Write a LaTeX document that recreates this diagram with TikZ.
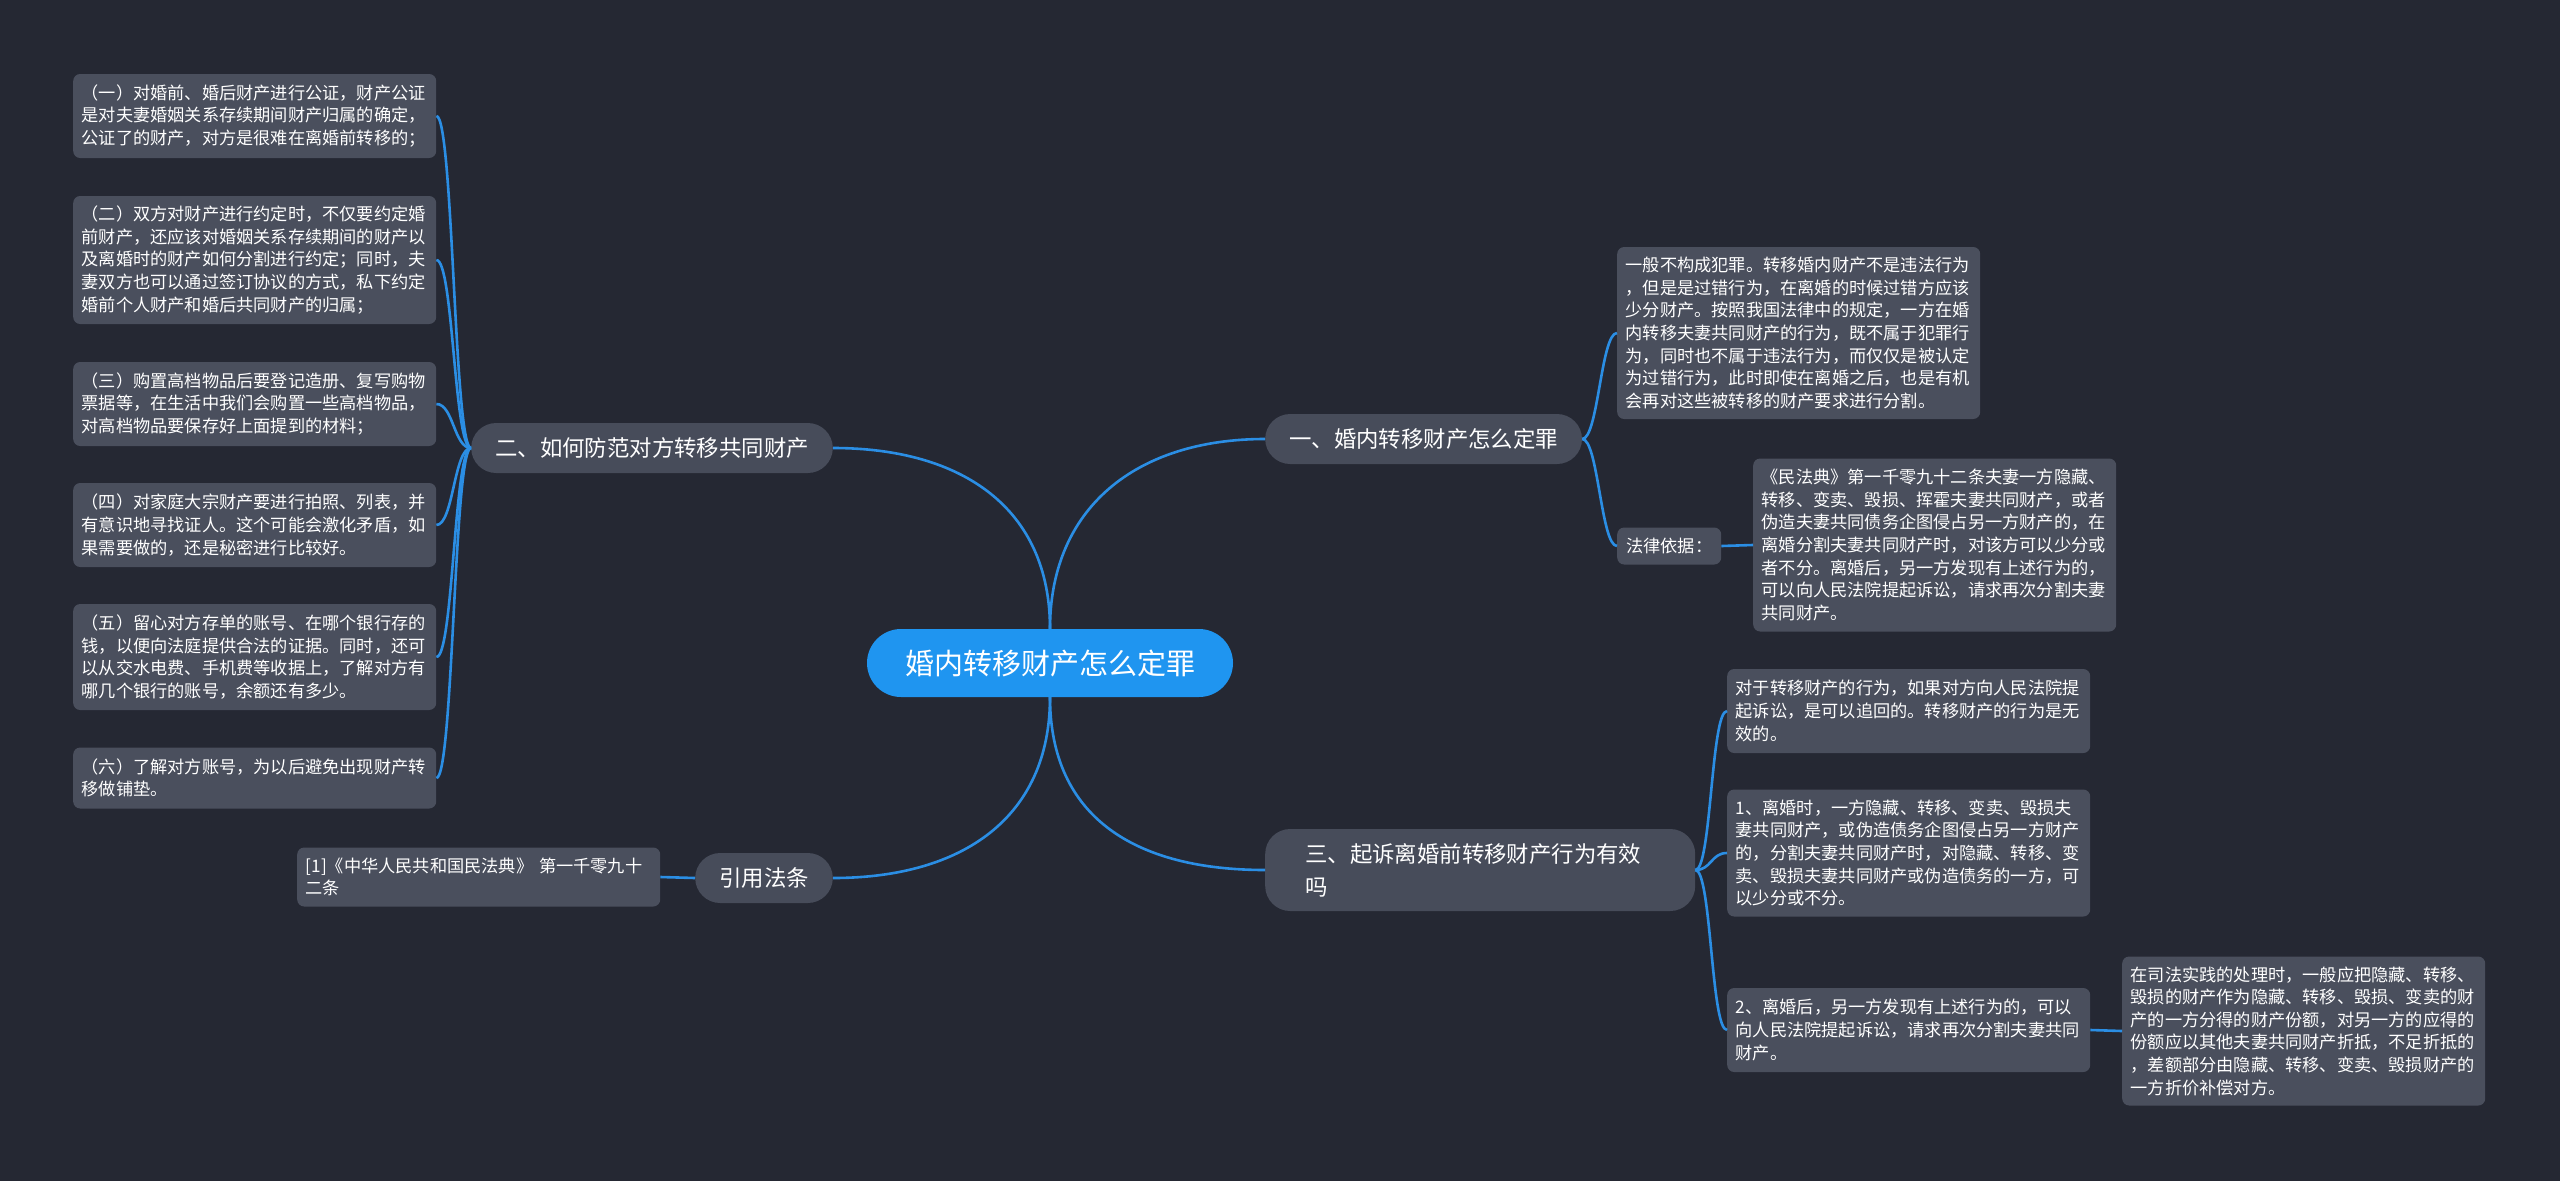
\documentclass[tikz,border=0pt]{standalone}
\usepackage{fontspec}
\newfontfamily\cjkfont{Noto Sans CJK SC}
\usepackage{xcolor}
\definecolor{bgnavy}{HTML}{252833}
\definecolor{leafgray}{HTML}{4A4F5D}
\definecolor{topicgray}{HTML}{474C5A}
\definecolor{rootblue}{HTML}{1F95F0}
\definecolor{linkblue}{HTML}{2B8EE4}

\begin{document}
\begin{tikzpicture}[x=1pt, y=-1pt,
  leaf/.style={fill=leafgray, text=white, rounded corners=7, anchor=west,
    font=\cjkfont\fontsize{17.2}{22.6}\selectfont, align=left,
    text width=346, inner xsep=8.5, inner ysep=0},
  topic/.style={fill=topicgray, text=white, rounded corners=25,
    font=\cjkfont\fontsize{22.4}{29}\selectfont, inner xsep=24,
    minimum height=50},
  link/.style={linkblue, line width=2.6}]
  \useasboundingbox (0,0) rectangle (2560,1181);
  \fill[bgnavy] (0,0) rectangle (2560,1181);

  %% Root and main topics
  \node[fill=rootblue, text=white, rounded corners=34, minimum height=68,
    inner xsep=38, font=\cjkfont\fontsize{29}{34}\selectfont] (root) at (1050,663)
    {婚内转移财产怎么定罪};
  \node[topic, anchor=west] (t1) at (1265,439) {一、婚内转移财产怎么定罪};
  \node[topic, anchor=east] (t2) at (833,448) {二、如何防范对方转移共同财产};
  \node[topic, anchor=west, minimum height=82, inner xsep=40, align=left,
    text width=350, font=\cjkfont\fontsize{22.4}{33}\selectfont] (t3) at (1265,870)
    {三、起诉离婚前转移财产行为有效\\吗};
  \node[topic, anchor=east] (t4) at (833,878) {引用法条};

  \draw[link] (root.north) .. controls +(0,-120) and +(-130,0) .. (t1.west);
  \draw[link] (root.north) .. controls +(0,-120) and +(130,0) .. (t2.east);
  \draw[link] (root.south) .. controls +(0,120) and +(-130,0) .. (t3.west);
  \draw[link] (root.south) .. controls +(0,120) and +(130,0) .. (t4.east);

  %% Left: prevention measures
  \node[leaf, minimum height=84] (l1) at (73,116)
    {（一）对婚前、婚后财产进行公证，财产公证\\是对夫妻婚姻关系存续期间财产归属的确定，\\公证了的财产，对方是很难在离婚前转移的；};
  \node[leaf, minimum height=128] (l2) at (73,260)
    {（二）双方对财产进行约定时，不仅要约定婚\\前财产，还应该对婚姻关系存续期间的财产以\\及离婚时的财产如何分割进行约定；同时，夫\\妻双方也可以通过签订协议的方式，私下约定\\婚前个人财产和婚后共同财产的归属；};
  \node[leaf, minimum height=84] (l3) at (73,404)
    {（三）购置高档物品后要登记造册、复写购物\\票据等，在生活中我们会购置一些高档物品，\\对高档物品要保存好上面提到的材料；};
  \node[leaf, minimum height=84] (l4) at (73,525)
    {（四）对家庭大宗财产要进行拍照、列表，并\\有意识地寻找证人。这个可能会激化矛盾，如\\果需要做的，还是秘密进行比较好。};
  \node[leaf, minimum height=106] (l5) at (73,657)
    {（五）留心对方存单的账号、在哪个银行存的\\钱，以便向法庭提供合法的证据。同时，还可\\以从交水电费、手机费等收据上，了解对方有\\哪几个银行的账号，余额还有多少。};
  \node[leaf, minimum height=61] (l6) at (73,778)
    {（六）了解对方账号，为以后避免出现财产转\\移做铺垫。};

  \draw[link] (t2.west) .. controls +(-17,0) and +(17,0) .. (l1.east);
  \draw[link] (t2.west) .. controls +(-17,0) and +(17,0) .. (l2.east);
  \draw[link] (t2.west) .. controls +(-17,0) and +(17,0) .. (l3.east);
  \draw[link] (t2.west) .. controls +(-17,0) and +(17,0) .. (l4.east);
  \draw[link] (t2.west) .. controls +(-17,0) and +(17,0) .. (l5.east);
  \draw[link] (t2.west) .. controls +(-17,0) and +(17,0) .. (l6.east);

  %% Left: cited law
  \node[leaf, minimum height=59] (ref) at (297,877)
    {[1]《中华人民共和国民法典》 第一千零九十\\二条};
  \draw[link] (t4.west) -- (ref.east);

  %% Right: topic one
  \node[leaf, minimum height=172] (r1) at (1617,333)
    {一般不构成犯罪。转移婚内财产不是违法行为\\，但是是过错行为，在离婚的时候过错方应该\\少分财产。按照我国法律中的规定，一方在婚\\内转移夫妻共同财产的行为，既不属于犯罪行\\为，同时也不属于违法行为，而仅仅是被认定\\为过错行为，此时即使在离婚之后，也是有机\\会再对这些被转移的财产要求进行分割。};
  \node[leaf, text width=, minimum height=37, inner xsep=9] (basis) at (1617,546)
    {法律依据：};
  \node[leaf, minimum height=173] (law) at (1753,545)
    {《民法典》第一千零九十二条夫妻一方隐藏、\\转移、变卖、毁损、挥霍夫妻共同财产，或者\\伪造夫妻共同债务企图侵占另一方财产的，在\\离婚分割夫妻共同财产时，对该方可以少分或\\者不分。离婚后，另一方发现有上述行为的，\\可以向人民法院提起诉讼，请求再次分割夫妻\\共同财产。};

  \draw[link] (t1.east) .. controls +(16,0) and +(-16,0) .. (r1.west);
  \draw[link] (t1.east) .. controls +(16,0) and +(-16,0) .. (basis.west);
  \draw[link] (basis.east) -- (law.west);

  %% Right: topic three
  \node[leaf, minimum height=84] (s1) at (1727,711)
    {对于转移财产的行为，如果对方向人民法院提\\起诉讼，是可以追回的。转移财产的行为是无\\效的。};
  \node[leaf, minimum height=127] (s2) at (1727,853)
    {1、离婚时，一方隐藏、转移、变卖、毁损夫\\妻共同财产，或伪造债务企图侵占另一方财产\\的，分割夫妻共同财产时，对隐藏、转移、变\\卖、毁损夫妻共同财产或伪造债务的一方，可\\以少分或不分。};
  \node[leaf, minimum height=84] (s3) at (1727,1030)
    {2、离婚后，另一方发现有上述行为的，可以\\向人民法院提起诉讼，请求再次分割夫妻共同\\财产。};
  \node[leaf, minimum height=149] (far) at (2122,1031)
    {在司法实践的处理时，一般应把隐藏、转移、\\毁损的财产作为隐藏、转移、毁损、变卖的财\\产的一方分得的财产份额，对另一方的应得的\\份额应以其他夫妻共同财产折抵，不足折抵的\\，差额部分由隐藏、转移、变卖、毁损财产的\\一方折价补偿对方。};

  \draw[link] (t3.east) .. controls +(16,0) and +(-16,0) .. (s1.west);
  \draw[link] (t3.east) .. controls +(16,0) and +(-16,0) .. (s2.west);
  \draw[link] (t3.east) .. controls +(16,0) and +(-16,0) .. (s3.west);
  \draw[link] (s3.east) -- (far.west);
\end{tikzpicture}
\end{document}
